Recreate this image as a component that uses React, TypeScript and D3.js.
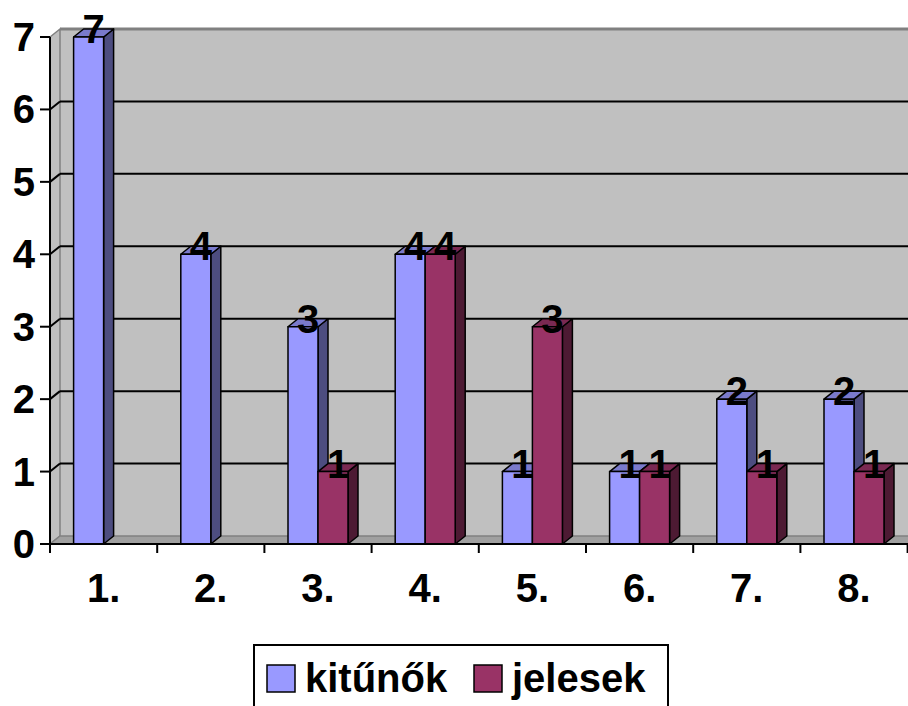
import React from "react";
import * as d3 from "d3";

const categories = ["1.", "2.", "3.", "4.", "5.", "6.", "7.", "8."];
const seriesNames = ["kitűnők", "jelesek"];
const kitunok: (number | null)[] = [7, 4, 3, 4, 1, 1, 2, 2];
const jelesek: (number | null)[] = [null, null, 1, 4, 3, 1, 1, 1];
const yTicks = [0, 1, 2, 3, 4, 5, 6, 7];

const W = 908;
const H = 706;
const left = 50;
const right = 907.6;
const base = 544;
const top = 37;
const DX = 10;
const DY = 8;
const FONT = "'Liberation Sans', Arial, sans-serif";

const fronts = ["#9999FF", "#993366"];
const tops = ["#7A7ACC", "#7A2952"];
const sides = ["#4D4D80", "#4D1A33"];

export default function App() {
  const x = d3.scaleBand<string>().domain(categories).range([left, right]);
  const xs = d3.scaleBand<string>().domain(seriesNames).range([0, 60]);
  const y = d3.scaleLinear().domain([0, 7]).range([base, top]);
  const bw = xs.bandwidth();
  const series = [kitunok, jelesek];

  const bars: React.ReactNode[] = [];
  const labels: React.ReactNode[] = [];
  categories.forEach((c, i) => {
    series.forEach((vals, s) => {
      const v = vals[i];
      if (v == null) return;
      const x0 = (x(c) as number) + (x.bandwidth() - 60) / 2 + (xs(seriesNames[s]) as number);
      const yt = y(v);
      const y0 = y(0);
      const pts = (arr: number[][]) => arr.map((p) => p.join(",")).join(" ");
      bars.push(
        <g key={`b${i}-${s}`} stroke="#000" strokeWidth={1.5} strokeLinejoin="round">
          <polygon points={pts([[x0 + bw, yt], [x0 + bw + DX, yt - DY], [x0 + bw + DX, y0 - DY], [x0 + bw, y0]])} fill={sides[s]} />
          <polygon points={pts([[x0, yt], [x0 + DX, yt - DY], [x0 + bw + DX, yt - DY], [x0 + bw, yt]])} fill={tops[s]} />
          <rect x={x0} y={yt} width={bw} height={y0 - yt} fill={fronts[s]} />
        </g>
      );
      labels.push(
        <text key={`l${i}-${s}`} x={x0 + bw / 2 + DX / 2} y={yt + 6} textAnchor="middle" fontFamily={FONT} fontWeight="bold" fontSize={40} fill="#000">
          {v}
        </text>
      );
    });
  });

  return (
    <svg width={W} height={H} style={{ position: "absolute", left: 0, top: 0, display: "block", background: "#fff" }}>
      {/* back wall */}
      <rect x={left + DX} y={top - DY} width={right - left + 10} height={base - top} fill="#C0C0C0" />
      <line x1={left + DX} x2={right + DX + 10} y1={top - DY} y2={top - DY} stroke="#808080" strokeWidth={3} />
      {/* left wall */}
      <polygon points={`${left},${base} ${left + DX},${base - DY} ${left + DX},${top - DY} ${left},${top}`} fill="#C0C0C0" stroke="#808080" strokeWidth={1.5} />
      {/* floor */}
      <polygon points={`${left},${base} ${left + DX},${base - DY} ${right + DX + 10},${base - DY} ${right + 10},${base}`} fill="#A0A0A0" stroke="#808080" strokeWidth={1.5} />
      {/* gridlines */}
      {yTicks.filter((t) => t > 0 && t < 7).map((t) => (
        <g key={`g${t}`} stroke="#000" strokeWidth={2}>
          <line x1={left + DX} x2={right + DX + 10} y1={y(t) - DY} y2={y(t) - DY} />
          <line x1={left} x2={left + DX} y1={y(t)} y2={y(t) - DY} />
        </g>
      ))}
      {bars}
      {/* axes */}
      <line x1={left} x2={left} y1={top} y2={base} stroke="#000" strokeWidth={2} />
      <line x1={left} x2={W} y1={base} y2={base} stroke="#000" strokeWidth={2} />
      {yTicks.map((t) => (
        <g key={`yt${t}`}>
          <line x1={left - 10} x2={left} y1={y(t)} y2={y(t)} stroke="#000" strokeWidth={2} />
          <text x={35} y={y(t) + 14} textAnchor="end" fontFamily={FONT} fontWeight="bold" fontSize={40}>
            {t}
          </text>
        </g>
      ))}
      {categories.map((c) => (
        <g key={`xt${c}`}>
          <line x1={x(c)} x2={x(c)} y1={base} y2={base + 9} stroke="#000" strokeWidth={2} />
          <text x={(x(c) as number) + x.bandwidth() / 2} y={602} textAnchor="middle" fontFamily={FONT} fontWeight="bold" fontSize={40}>
            {c}
          </text>
        </g>
      ))}
      <line x1={right} x2={right} y1={base} y2={base + 9} stroke="#000" strokeWidth={2} />
      {labels}
      {/* legend */}
      <rect x={254} y={645} width={414} height={80} fill="#fff" stroke="#000" strokeWidth={2} />
      {seriesNames.map((n, s) => {
        const lx = s === 0 ? 267 : 474;
        return (
          <g key={`lg${s}`}>
            <rect x={lx} y={665} width={28} height={27} fill={fronts[s]} stroke="#000" strokeWidth={1.5} />
            <text x={lx + 38} y={692} fontFamily={FONT} fontWeight="bold" fontSize={40}>
              {n}
            </text>
          </g>
        );
      })}
    </svg>
  );
}
